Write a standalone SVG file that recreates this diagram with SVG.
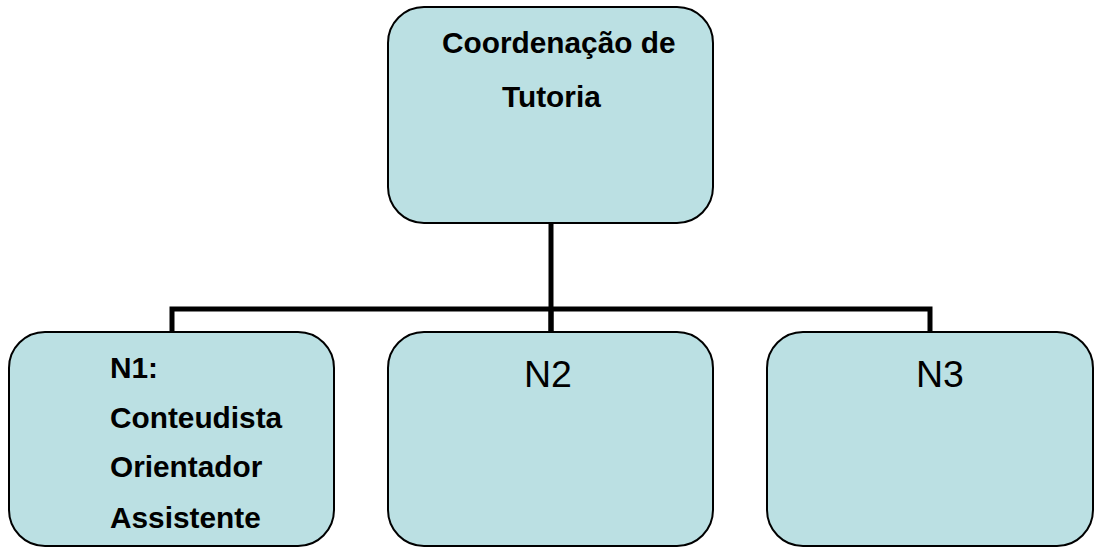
<svg xmlns="http://www.w3.org/2000/svg" width="1098" height="548" viewBox="0 0 1098 548">
<style>
.box{fill:#BBE0E3;stroke:#000;stroke-width:2}
.b{font-family:"Liberation Sans",Arial,sans-serif;font-weight:bold;font-size:29.8px;fill:#000}
.r{font-family:"Liberation Sans",Arial,sans-serif;font-size:37.5px;fill:#000}
.c{fill:none;stroke:#000;stroke-width:5}
</style>
<rect width="1098" height="548" fill="#fff"/>
<g id="connectors">
<line class="c" x1="551" y1="223" x2="551" y2="332"/>
<polyline class="c" points="172,332 172,309 930,309 930,332"/>
<line class="c" x1="551" y1="309" x2="551" y2="332"/>
</g>
<g id="coord">
<rect class="box" x="388" y="7" width="325" height="216" rx="36" ry="36"/>
<text class="b" x="442" y="53">Coordenação de</text>
<text class="b" x="502" y="107">Tutoria</text>
</g>
<g id="n1">
<rect class="box" x="9" y="332" width="325" height="214" rx="36" ry="36"/>
<text class="b" x="110" y="378">N1:</text>
<text class="b" x="110" y="428">Conteudista</text>
<text class="b" x="110" y="477">Orientador</text>
<text class="b" x="110" y="528">Assistente</text>
</g>
<g id="n2">
<rect class="box" x="388" y="332" width="325" height="214" rx="36" ry="36"/>
<text class="r" x="524" y="387">N2</text>
</g>
<g id="n3">
<rect class="box" x="767" y="332" width="326" height="214" rx="36" ry="36"/>
<text class="r" x="916" y="387">N3</text>
</g>
</svg>
